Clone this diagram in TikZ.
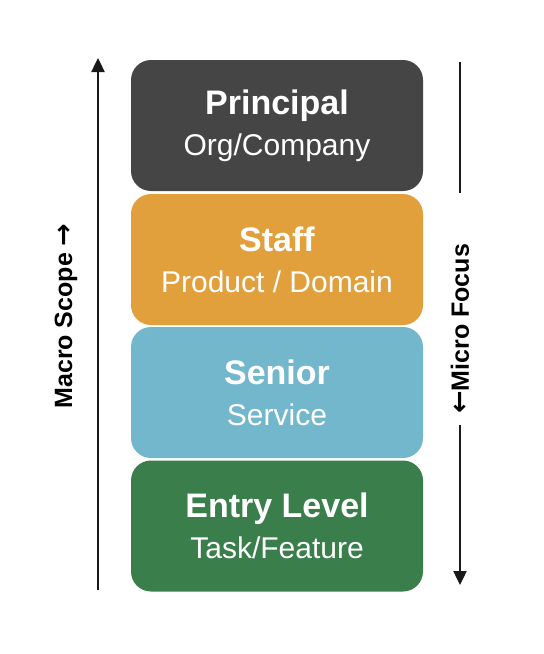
\documentclass[tikz,border=0pt]{standalone}
\usepackage{fontspec}
\setmainfont{Liberation Sans}
\newfontfamily\arrowfont{DejaVu Sans}
\usetikzlibrary{arrows.meta}
\definecolor{principalgray}{RGB}{69,69,69}
\definecolor{staffocre}{RGB}{226,160,60}
\definecolor{seniorblue}{RGB}{115,183,205}
\definecolor{entrygreen}{RGB}{58,126,76}
\tikzset{
  level/.style={rounded corners=20pt, minimum width=292pt, minimum height=131pt,
    align=center, text=white, inner sep=0pt,
    font=\fontsize{30}{41}\selectfont},
  scopeline/.style={line width=2.4pt, color=black!90},
  scopetip/.style={-{Triangle[length=14pt,width=13pt]}},
  sidelabel/.style={rotate=90, font=\fontsize{25}{28}\selectfont\bfseries}
}
\newcommand{\lvltitle}[1]{{\fontsize{34}{41}\selectfont\bfseries #1}}
\newcommand{\sidearrow}[1]{{\arrowfont\bfseries\fontsize{27}{28}\selectfont #1}}

\begin{document}
\begin{tikzpicture}[x=1pt,y=-1pt]
\useasboundingbox (0,0) rectangle (544,654);
% the four levels
\node[level, fill=principalgray] (principal) at (277,125.5) {\lvltitle{Principal}\\Org/Company};
\node[level, fill=staffocre] (staff) at (277,259.5) {\lvltitle{Staff}\\Product / Domain};
\node[level, fill=seniorblue] (senior) at (277,392.5) {\lvltitle{Senior}\\Service};
\node[level, fill=entrygreen] (entry) at (277,526) {\lvltitle{Entry Level}\\Task/Feature};
% left scale
\coordinate (macrobot) at (98,590);
\coordinate (macrotop) at (98,58);
\draw[scopeline, scopetip] (macrobot) -- (macrotop);
\node[sidelabel] (macro) at (66,316) {Macro Scope \sidearrow{→}};
% right scale
\coordinate (microtop) at (460,62);
\coordinate (microend) at (460,193);
\coordinate (microstart) at (460,425);
\coordinate (microbot) at (460,585);
\draw[scopeline] (microtop) -- (microend);
\draw[scopeline, scopetip] (microstart) -- (microbot);
\node[sidelabel] (micro) at (460,329) {\sidearrow{←}Micro Focus};
\end{tikzpicture}
\end{document}
